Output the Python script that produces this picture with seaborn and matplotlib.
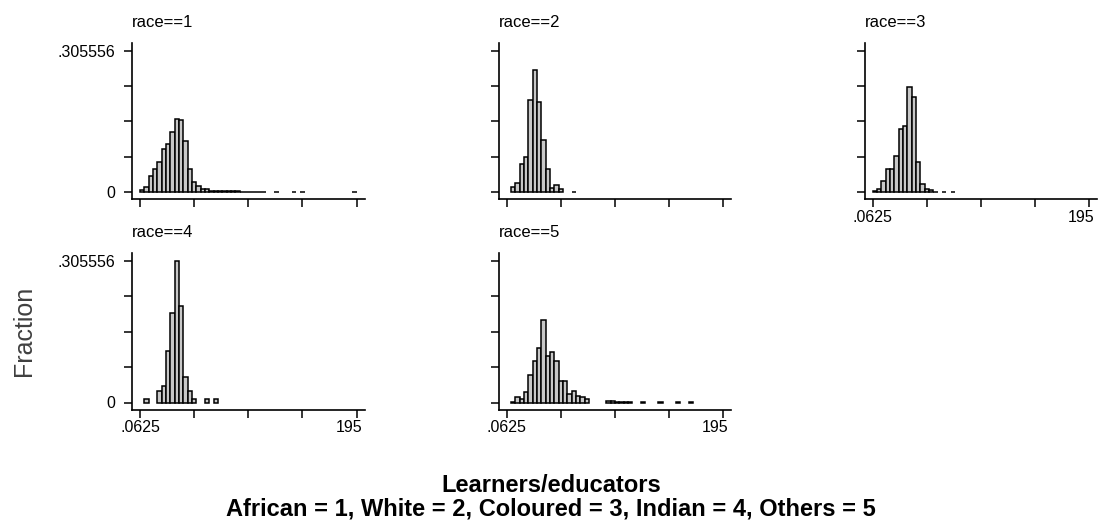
import numpy as np
import pandas as pd
import matplotlib
matplotlib.use("Agg")
import matplotlib.pyplot as plt
import matplotlib.transforms as mtransforms
import seaborn as sns

# ---------------- data ----------------
races = [1, 2, 3, 4, 5]
x_min, x_max = 0.0625, 195.0
n_bins = 50
y_max = 0.305556
x_tick_labels = [".0625", "", "", "", "195"]
y_tick_labels = ["0", "", "", "", ".305556"]

frac_race1 = [0.005, 0.011, 0.036, 0.050, 0.065, 0.094, 0.105, 0.130, 0.158, 0.155,
              0.111, 0.050, 0.023, 0.014, 0.007, 0.007, 0.003, 0.002, 0.002, 0.002,
              0.002, 0.003, 0.003, 0.001, 0.001, 0.001, 0.001, 0.001, 0.001, 0.0,
              0.0, 0.001, 0.0, 0.0, 0.0, 0.001, 0.0, 0.001, 0.0, 0.0,
              0.0, 0.0, 0.0, 0.0, 0.0, 0.0, 0.0, 0.0, 0.0, 0.001]
frac_race2 = [0.0, 0.012, 0.019, 0.062, 0.0755, 0.199, 0.263, 0.194, 0.112, 0.051,
              0.009, 0.015, 0.0075, 0.0, 0.0, 0.001, 0.0, 0.0, 0.0, 0.0,
              0.0, 0.0, 0.0, 0.0, 0.0, 0.0, 0.0, 0.0, 0.0, 0.0,
              0.0, 0.0, 0.0, 0.0, 0.0, 0.0, 0.0, 0.0, 0.0, 0.0,
              0.0, 0.0, 0.0, 0.0, 0.0, 0.0, 0.0, 0.0, 0.0, 0.0]
frac_race3 = [0.0036, 0.007, 0.025, 0.050, 0.050, 0.079, 0.137, 0.144, 0.227, 0.205,
              0.065, 0.018, 0.007, 0.004, 0.001, 0.0, 0.001, 0.0, 0.001, 0.0,
              0.0, 0.0, 0.0, 0.0, 0.0, 0.0, 0.0, 0.0, 0.0, 0.0,
              0.0, 0.0, 0.0, 0.0, 0.0, 0.0, 0.0, 0.0, 0.0, 0.0,
              0.0, 0.0, 0.0, 0.0, 0.0, 0.0, 0.0, 0.0, 0.0, 0.0]
frac_race4 = [0.0, 0.0069, 0.0, 0.0, 0.024, 0.036, 0.111, 0.194, 0.305556, 0.208,
              0.055, 0.025, 0.0069, 0.0, 0.0, 0.0069, 0.0, 0.0069, 0.0, 0.0,
              0.0, 0.0, 0.0, 0.0, 0.0, 0.0, 0.0, 0.0, 0.0, 0.0,
              0.0, 0.0, 0.0, 0.0, 0.0, 0.0, 0.0, 0.0, 0.0, 0.0,
              0.0, 0.0, 0.0, 0.0, 0.0, 0.0, 0.0, 0.0, 0.0, 0.0]
frac_race5 = [0.0, 0.002, 0.012, 0.0072, 0.023, 0.059, 0.090, 0.117, 0.178, 0.101,
              0.108, 0.090, 0.047, 0.047, 0.019, 0.025, 0.0144, 0.0108, 0.0072, 0.0,
              0.0, 0.0, 0.0, 0.003, 0.003, 0.001, 0.001, 0.001, 0.001, 0.0,
              0.0, 0.001, 0.0, 0.0, 0.0, 0.001, 0.0, 0.0, 0.0, 0.001,
              0.0, 0.0, 0.001, 0.0, 0.0, 0.0, 0.0, 0.0, 0.0, 0.0]
fractions = {1: frac_race1, 2: frac_race2, 3: frac_race3, 4: frac_race4, 5: frac_race5}

x_title = "Learners/educators"
x_subtitle = "African = 1, White = 2, Coloured = 3, Indian = 4, Others = 5"
y_title = "Fraction"

# ---------------- style ----------------
sns.set_theme(style="white")
plt.rcParams["font.family"] = ["Liberation Sans", "DejaVu Sans"]

W, H = 1100, 526
fig = plt.figure(figsize=(W / 100, H / 100), dpi=100)

edges = np.linspace(x_min, x_max, n_bins + 1)
centers = (edges[:-1] + edges[1:]) / 2
xticks = np.linspace(x_min, x_max, 5)
yticks = np.linspace(0, y_max, 5)

px_per_x = 216.6 / (x_max - x_min)
px_per_y = 141.6 / y_max
pad_l = 8.0
pad_r = 8.0
pad_b = 7.0
pad_t = 8.0
ax_w = (x_max - x_min) * px_per_x + pad_l + pad_r
ax_h = y_max * px_per_y + pad_b + pad_t
xlim = (x_min - pad_l / px_per_x, x_max + pad_r / px_per_x)
ylim = (-pad_b / px_per_y, y_max + pad_t / px_per_y)

col_tick0 = [140.0, 506.7, 872.7]
row_bottom = [199.3, 409.5]
layout = {1: (0, 0), 2: (1, 0), 3: (2, 0), 4: (0, 1), 5: (1, 1)}
bottom_panels = {3, 4, 5}
shift_195 = mtransforms.ScaledTranslation(-8 / 100, 0, fig.dpi_scale_trans)

for r in races:
    c, row = layout[r]
    left = col_tick0[c] - pad_l
    bottom = row_bottom[row]
    ax = fig.add_axes([left / W, 1 - bottom / H, ax_w / W, ax_h / H])
    df = pd.DataFrame({"x": centers, "w": fractions[r]})
    sns.histplot(data=df, x="x", weights="w", bins=n_bins,
                 binrange=(x_min, x_max), stat="count",
                 color="#c8c8c8", edgecolor="black", linewidth=1.1, alpha=1,
                 ax=ax)
    for p in ax.patches:
        if p.get_height() <= 0:
            p.set_visible(False)
    ax.set_xlim(*xlim)
    ax.set_ylim(*ylim)
    ax.set_xlabel("")
    ax.set_ylabel("")
    for s in ["top", "right"]:
        ax.spines[s].set_visible(False)
    for s in ["left", "bottom"]:
        ax.spines[s].set_color("black")
        ax.spines[s].set_linewidth(1.2)
    ax.set_xticks(xticks)
    ax.set_yticks(yticks)
    ax.set_xticklabels(x_tick_labels if r in bottom_panels else [""] * 5)
    ax.set_yticklabels(y_tick_labels if c == 0 else [""] * 5)
    ax.tick_params(axis="both", which="both", direction="out", length=6,
                   width=1.1, color="black", labelsize=11.5, labelcolor="black",
                   bottom=True, left=True, top=False, right=False)
    ax.tick_params(axis="y", pad=6)
    ax.tick_params(axis="x", pad=1.5)
    if r in bottom_panels:
        lab = ax.get_xticklabels()[-1]
        lab.set_transform(lab.get_transform() + shift_195)
    ax.set_facecolor("none")
    ax.grid(False)
    top_px = bottom - ax_h
    fig.text(left / W, 1 - (top_px - 15.5) / H, f"race=={r}", ha="left",
             va="baseline", fontsize=12, color="black")

fig.text(24 / W, 1 - 331 / H, y_title, rotation=90, ha="center", va="center",
         fontsize=18, color="#404040")
fig.text(551 / W, 1 - 491.5 / H, x_title, ha="center", va="baseline",
         fontsize=17, fontweight="bold", color="black")
fig.text(551 / W, 1 - 515.5 / H, x_subtitle, ha="center", va="baseline",
         fontsize=17, fontweight="bold", color="black")

fig.savefig("out.png", dpi=100, facecolor="white")
